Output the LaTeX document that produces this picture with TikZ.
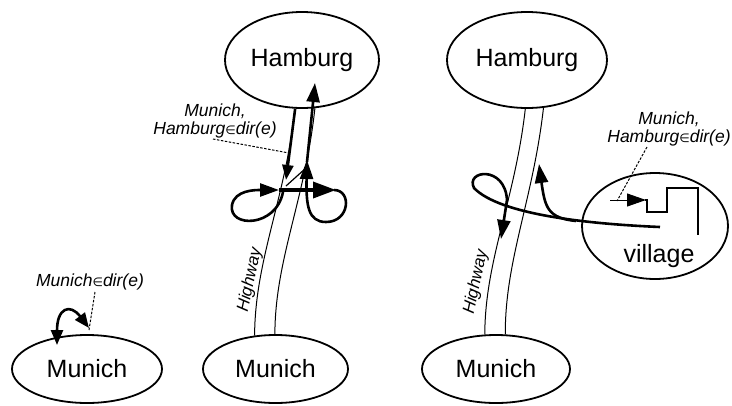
\documentclass[tikz,border=0pt]{standalone}
\usepackage{fontspec}
\setmainfont{Liberation Sans}
\newfontfamily\djv{DejaVu Sans}
\usetikzlibrary{arrows.meta,shapes.geometric}
\newcommand\myin{{\djv\fontsize{12}{12}\selectfont ∈}}
\begin{document}
\begin{tikzpicture}[x=1pt,y=-1pt,
  city/.style={draw, ellipse, line width=1.8pt, inner sep=0pt, font=\fontsize{25}{25}\selectfont},
  lane/.style={line width=1pt},
  route/.style={line width=2.6pt},
  bar/.style={line width=3.6pt},
  tip/.style={-{Triangle[length=19pt,width=13pt]}},
  bigtip/.style={-{Triangle[length=23pt,width=16pt]}},
  smalltip/.style={-{Triangle[length=15pt,width=11pt]}},
  lbl/.style={font=\fontsize{17.5}{18}\selectfont\itshape, align=center, inner sep=0pt},
  hw/.style={font=\fontsize{17}{17}\selectfont\itshape, inner sep=0pt, rotate=78},
  pointer/.style={line width=1pt, dash pattern=on 2.5pt off 1.5pt},
]
\useasboundingbox (0,0) rectangle (732,405);

% cities
\node[city, minimum width=150pt, minimum height=68pt] (mL) at (87,369) {Munich};
\node[city, minimum width=145pt, minimum height=68pt] (mM) at (275.5,369) {Munich};
\node[city, minimum width=148pt, minimum height=68pt] (mR) at (496,369) {Munich};
\node[city, minimum width=154pt, minimum height=96pt] (hM) at (302,60) {Hamburg};
\node[city, minimum width=160pt, minimum height=96pt] (hR) at (527,60) {Hamburg};
\node[city, minimum width=146pt, minimum height=106pt] (vil) at (655,226) {};
\node[font=\fontsize{25}{25}\selectfont, inner sep=0pt] (viltxt) at (659,256) {village};

% labels
\node[lbl] (labL) at (90,282) {Munich\myin dir(e)};
\node[lbl] (labM) at (215,121) {Munich,\\Hamburg\myin dir(e)};
\node[lbl] (labR) at (669,129) {Munich,\\Hamburg\myin dir(e)};
\node[hw] (hwM) at (250,280) {Highway};
\node[hw] (hwR) at (476,282) {Highway};

% lanes
\draw[lane] (hM.262) .. controls (285,200) and (255,260) .. (mM.122);
\draw[lane] (hM.285) .. controls (305,200) and (275,260) .. (mM.91);
\draw[lane] (hR.268) .. controls (515,200) and (485,260) .. (mR.108);
\draw[lane] (hR.289) .. controls (533,200) and (505,260) .. (mR.75);

% middle routes
\draw[route, smalltip] (hM.262) -- (286,180);
\draw[line width=1.2pt] (286,186) -- (306,168);
\draw[route, tip] (283,192) .. controls (276,228) and (228,228) .. (232,205) .. controls (235,190) and (255,190) .. (279,190);
\draw[bar, bigtip] (279,190) -- (336,190);
\draw[route, tip] (334,190) .. controls (352,190) and (350,222) .. (326,222) .. controls (308,222) and (306,205) .. (307,160);
\draw[route, tip] (307,162) -- (315,83);
\draw[pointer] (213,139) -- (289,153);

% left Munich
\draw[route, {Triangle[length=15pt,width=12pt]}-{Triangle[length=15pt,width=12pt]}] (57,345) .. controls (57,308) and (70,303) .. (89,328);
\draw[pointer] (95,292) -- (89,330);

% right figure
\draw[route, tip] (660,227) .. controls (590,224) and (500,215) .. (474,188) .. controls (465,170) and (505,165) .. (507,200) -- (501,239);
\draw[route, tip] (576,221) .. controls (548,218) and (545,208) .. (539,164);
\draw[lane, tip] (610,200) -- (646,200);
\draw[route] (645,200) -- (647,200) -- (647,212) -- (667,212) -- (667,188) -- (698,188) -- (698,235);
\draw[pointer] (647,147) -- (617,201);
\end{tikzpicture}
\end{document}
